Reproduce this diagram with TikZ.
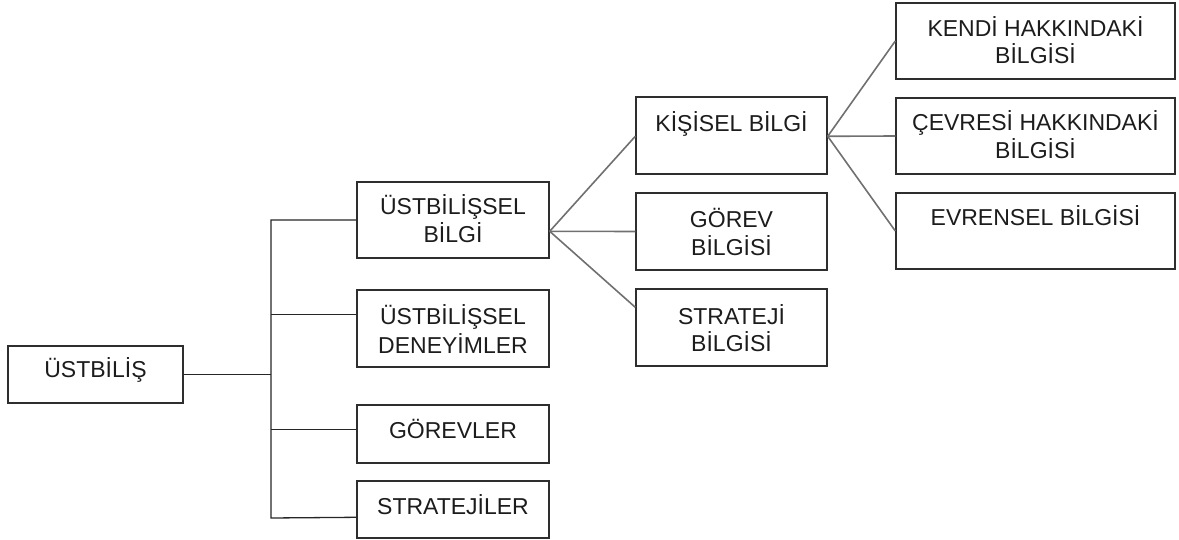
\documentclass[tikz,border=0pt]{standalone}
\usepackage{fontspec}
\setmainfont{Liberation Sans}
\usetikzlibrary{calc}
\definecolor{boxline}{HTML}{2E2E2E}
\definecolor{fanline}{HTML}{707070}
\definecolor{txtcol}{HTML}{1C1C1C}
\begin{document}
\begin{tikzpicture}[x=1pt,y=-1pt,
  box/.style={draw=boxline, line width=1.4pt, inner sep=0pt, fill=white},
  txt/.style={anchor=base, inner sep=0pt, text=txtcol, font=\fontsize{23}{29}\selectfont},
  tree/.style={draw=black!85, line width=1.3pt},
  fan/.style={draw=fanline, line width=1.6pt}]
\useasboundingbox (0,0) rectangle (1179,540);

% boxes
\node[box, minimum width=175pt, minimum height=57pt] (root) at (95.5,374.5) {};
\node[box, minimum width=192pt, minimum height=76pt] (b1) at (453,220) {};
\node[box, minimum width=192pt, minimum height=77pt] (b2) at (453,328.5) {};
\node[box, minimum width=192pt, minimum height=58pt] (b3) at (453,434) {};
\node[box, minimum width=192pt, minimum height=57pt] (b4) at (453,509.5) {};
\node[box, minimum width=191pt, minimum height=77pt] (k1) at (731.5,135.5) {};
\node[box, minimum width=191pt, minimum height=77pt] (k2) at (731.5,231.5) {};
\node[box, minimum width=191pt, minimum height=77pt] (k3) at (731.5,327.5) {};
\node[box, minimum width=279pt, minimum height=76pt] (e1) at (1035.5,41) {};
\node[box, minimum width=279pt, minimum height=76pt] (e2) at (1035.5,136) {};
\node[box, minimum width=279pt, minimum height=76pt] (e3) at (1035.5,231) {};

% texts
\node[txt] (rootT) at (95.5,377.5) {ÜSTBİLİŞ};
\node[txt] (b1Ta) at (453,215) {ÜSTBİLİŞSEL};
\node[txt] (b1Tb) at (453,243) {BİLGİ};
\node[txt] (b2Ta) at (453,324) {ÜSTBİLİŞSEL};
\node[txt] (b2Tb) at (453,353) {DENEYİMLER};
\node[txt] (b3T) at (453,438) {GÖREVLER};
\node[txt] (b4T) at (453,514) {STRATEJİLER};
\node[txt] (k1T) at (731.5,132) {KİŞİSEL BİLGİ};
\node[txt] (k2Ta) at (731.5,228) {GÖREV};
\node[txt] (k2Tb) at (731.5,256) {BİLGİSİ};
\node[txt] (k3Ta) at (731.5,324) {STRATEJİ};
\node[txt] (k3Tb) at (731.5,352) {BİLGİSİ};
\node[txt] (e1Ta) at (1035.5,37) {KENDİ HAKKINDAKİ};
\node[txt] (e1Tb) at (1035.5,64) {BİLGİSİ};
\node[txt] (e2Ta) at (1035.5,131) {ÇEVRESİ HAKKINDAKİ};
\node[txt] (e2Tb) at (1035.5,159) {BİLGİSİ};
\node[txt] (e3T) at (1035.5,226) {EVRENSEL BİLGİSİ};

% tree connectors
\coordinate (tTop) at (271,220);
\coordinate (tBot) at (271,518);
\coordinate (b2p) at ($(b2.north west)+(0,25)$);
\coordinate (b3p) at ($(b3.north west)+(0,25)$);
\coordinate (b4p) at ($(b4.north west)+(0,37)$);
\draw[tree] (root.east) -- (root.east -| tTop);
\draw[tree] (b1.west) -- (tTop) -- (tBot) -- (b4p);
\draw[tree] (b2p) -- (b2p -| tTop);
\draw[tree] (b3p) -- (b3p -| tTop);

% fan connectors
\coordinate (f1) at ($(b1.north east)+(0,50)$);
\coordinate (k1p) at ($(k1.north west)+(0,40)$);
\coordinate (k3p) at ($(k3.north west)+(0,19)$);
\draw[fan] (f1) -- (k1p);
\draw[fan] (f1) -- (k2.west);
\draw[fan] (f1) -- (k3p);
\coordinate (f2) at ($(k1.north east)+(0,40)$);
\draw[fan] (f2) -- (e1.west);
\draw[fan] (f2) -- (e2.west);
\draw[fan] (f2) -- (e3.west);
\end{tikzpicture}
\end{document}
